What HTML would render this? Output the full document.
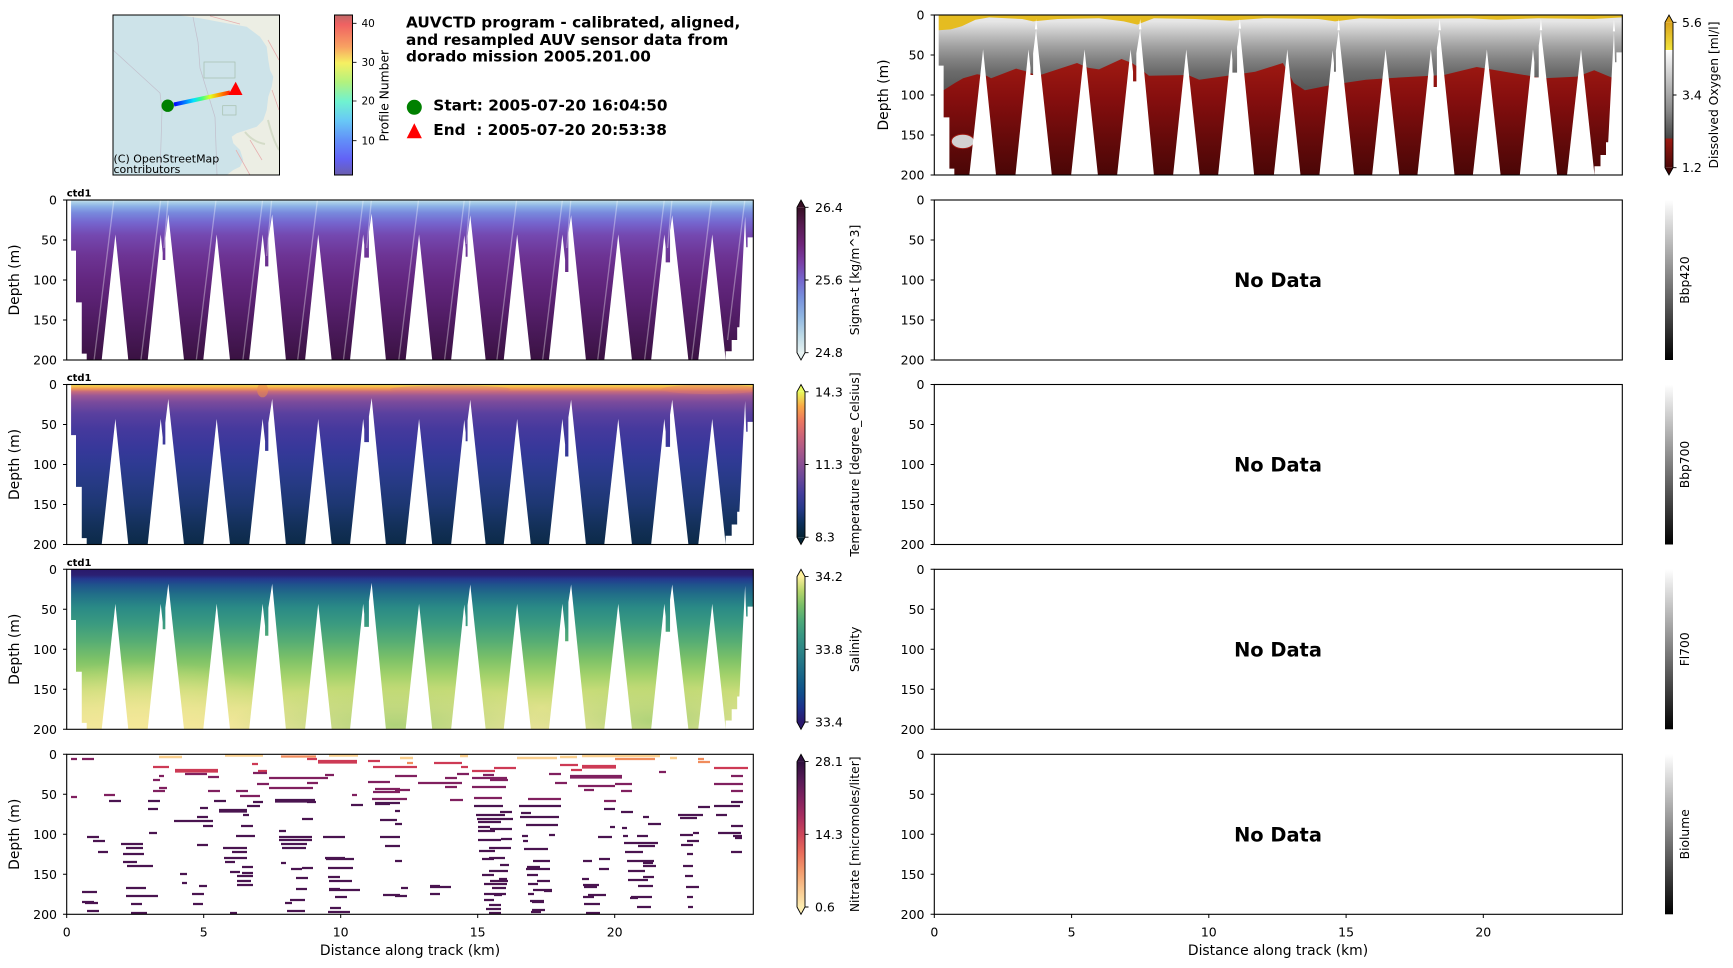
<!DOCTYPE html>
<html><head><meta charset="utf-8"><style>html,body{margin:0;padding:0;background:#fff}svg{display:block}text{font-family:"DejaVu Sans","Liberation Sans",sans-serif;fill:#000}</style></head><body>
<svg width="1733" height="968" viewBox="0 0 1733 968" xmlns="http://www.w3.org/2000/svg" xmlns:xlink="http://www.w3.org/1999/xlink">
<defs>
<clipPath id="clipKm" clipPathUnits="userSpaceOnUse"><rect x="0" y="0" width="25.07" height="200"/></clipPath>
<linearGradient id="gSig" x1="0" y1="0" x2="0" y2="1">
<stop offset="0" stop-color="#cfe6ee"/><stop offset="0.015" stop-color="#a9cfe8"/><stop offset="0.04" stop-color="#8bb0e6"/><stop offset="0.08" stop-color="#7889dd"/><stop offset="0.14" stop-color="#7566cf"/><stop offset="0.22" stop-color="#7448b0"/><stop offset="0.35" stop-color="#6d3494"/><stop offset="0.5" stop-color="#632780"/><stop offset="0.65" stop-color="#58206f"/><stop offset="0.8" stop-color="#4b1a5c"/><stop offset="1" stop-color="#3a1242"/></linearGradient>
<linearGradient id="gTmp" x1="0" y1="0" x2="0" y2="1">
<stop offset="0" stop-color="#f3e45a"/><stop offset="0.012" stop-color="#f6c24c"/><stop offset="0.025" stop-color="#f29a52"/><stop offset="0.045" stop-color="#c66a7e"/><stop offset="0.07" stop-color="#9a5896"/><stop offset="0.11" stop-color="#7a4b9c"/><stop offset="0.18" stop-color="#5a409f"/><stop offset="0.28" stop-color="#45399d"/><stop offset="0.4" stop-color="#37389a"/><stop offset="0.5" stop-color="#2e3a92"/><stop offset="0.62" stop-color="#263a84"/><stop offset="0.75" stop-color="#1d3772"/><stop offset="0.87" stop-color="#14315c"/><stop offset="1" stop-color="#0c2a48"/></linearGradient>
<linearGradient id="gSal" x1="0" y1="0" x2="0" y2="1">
<stop offset="0" stop-color="#2a1a6c"/><stop offset="0.035" stop-color="#2b1f72"/><stop offset="0.06" stop-color="#24388f"/><stop offset="0.1" stop-color="#1f558c"/><stop offset="0.16" stop-color="#217088"/><stop offset="0.24" stop-color="#2a8a86"/><stop offset="0.34" stop-color="#3a9a80"/><stop offset="0.45" stop-color="#56ad74"/><stop offset="0.56" stop-color="#7cc168"/><stop offset="0.66" stop-color="#a2d16a"/><stop offset="0.76" stop-color="#c7dc78"/><stop offset="0.87" stop-color="#e0e28c"/><stop offset="1" stop-color="#f1e69e"/></linearGradient>
<radialGradient id="gSalY"><stop offset="0" stop-color="#f5e898" stop-opacity="0.85"/><stop offset="1" stop-color="#f5e898" stop-opacity="0"/></radialGradient>
<radialGradient id="gSalG"><stop offset="0" stop-color="#86c764" stop-opacity="0.6"/><stop offset="1" stop-color="#86c764" stop-opacity="0"/></radialGradient>
<linearGradient id="gOxG" x1="0" y1="0" x2="0" y2="1">
<stop offset="0" stop-color="#e9e9e9"/><stop offset="0.04" stop-color="#e6e6e6"/><stop offset="0.08" stop-color="#d4d4d4"/><stop offset="0.13" stop-color="#bdbdbd"/><stop offset="0.2" stop-color="#9f9f9f"/><stop offset="0.27" stop-color="#858585"/><stop offset="0.35" stop-color="#6c6c6c"/><stop offset="0.45" stop-color="#5a5a5a"/><stop offset="1" stop-color="#505050"/></linearGradient>
<linearGradient id="gOxR" x1="0" y1="0" x2="0" y2="1">
<stop offset="0" stop-color="#a01a12"/><stop offset="0.35" stop-color="#850e0e"/><stop offset="0.7" stop-color="#640a0a"/><stop offset="1" stop-color="#4a0606"/></linearGradient>
<linearGradient id="cSig" x1="0" y1="0" x2="0" y2="1">
<stop offset="0" stop-color="#360e24"/><stop offset="0.12" stop-color="#561b50"/><stop offset="0.25" stop-color="#6e2478"/><stop offset="0.38" stop-color="#7a3fa6"/><stop offset="0.5" stop-color="#7566cd"/><stop offset="0.62" stop-color="#7790dc"/><stop offset="0.75" stop-color="#8fb6e2"/><stop offset="0.88" stop-color="#bcd9e6"/><stop offset="1" stop-color="#e6f1f1"/></linearGradient>
<linearGradient id="cTmp" x1="0" y1="0" x2="0" y2="1">
<stop offset="0" stop-color="#e8fa5b"/><stop offset="0.1" stop-color="#f9a746"/><stop offset="0.2" stop-color="#ec7760"/><stop offset="0.3" stop-color="#cd6478"/><stop offset="0.4" stop-color="#ab5989"/><stop offset="0.5" stop-color="#894f94"/><stop offset="0.6" stop-color="#67479a"/><stop offset="0.7" stop-color="#433d9c"/><stop offset="0.8" stop-color="#27398a"/><stop offset="0.9" stop-color="#0b2f5c"/><stop offset="1" stop-color="#042333"/></linearGradient>
<linearGradient id="cSal" x1="0" y1="0" x2="0" y2="1">
<stop offset="0" stop-color="#fdef9a"/><stop offset="0.1" stop-color="#b5d56a"/><stop offset="0.2" stop-color="#78be68"/><stop offset="0.3" stop-color="#4eaa78"/><stop offset="0.4" stop-color="#389782"/><stop offset="0.5" stop-color="#2d8686"/><stop offset="0.6" stop-color="#237487"/><stop offset="0.7" stop-color="#156288"/><stop offset="0.8" stop-color="#0f4e8b"/><stop offset="0.9" stop-color="#1c318c"/><stop offset="1" stop-color="#2a186c"/></linearGradient>
<linearGradient id="cNit" x1="0" y1="0" x2="0" y2="1">
<stop offset="0" stop-color="#2f0f3d"/><stop offset="0.125" stop-color="#561a56"/><stop offset="0.25" stop-color="#7f215f"/><stop offset="0.375" stop-color="#a82d60"/><stop offset="0.5" stop-color="#cd465a"/><stop offset="0.625" stop-color="#e86b5a"/><stop offset="0.75" stop-color="#f39a6c"/><stop offset="0.875" stop-color="#f8c58e"/><stop offset="1" stop-color="#fdedb0"/></linearGradient>
<linearGradient id="cOx" x1="0" y1="0" x2="0" y2="1">
<stop offset="0" stop-color="#d9a21c"/><stop offset="0.19" stop-color="#f2e43c"/><stop offset="0.19" stop-color="#ffffff"/><stop offset="0.35" stop-color="#d0d0d0"/><stop offset="0.6" stop-color="#8a8a8a"/><stop offset="0.8" stop-color="#454545"/><stop offset="0.8" stop-color="#9c1a12"/><stop offset="1" stop-color="#4a0707"/></linearGradient>
<linearGradient id="cGray" x1="0" y1="0" x2="0" y2="1"><stop offset="0" stop-color="#ffffff"/><stop offset="1" stop-color="#000000"/></linearGradient>
<linearGradient id="cProf" x1="0" y1="0" x2="0" y2="1">
<stop offset="0" stop-color="#c06868"/><stop offset="0.06" stop-color="#f06262"/><stop offset="0.2" stop-color="#f8a262"/><stop offset="0.3" stop-color="#f6f062"/><stop offset="0.42" stop-color="#b2f27e"/><stop offset="0.54" stop-color="#70f2d0"/><stop offset="0.66" stop-color="#68c8f6"/><stop offset="0.78" stop-color="#6290f8"/><stop offset="0.9" stop-color="#6262f6"/><stop offset="1" stop-color="#6a5eae"/></linearGradient>
<linearGradient id="gTrack" gradientUnits="userSpaceOnUse" x1="174" y1="0" x2="230" y2="0">
<stop offset="0" stop-color="#0000ff"/><stop offset="0.2" stop-color="#0080ff"/><stop offset="0.35" stop-color="#00e0ff"/><stop offset="0.5" stop-color="#40ff80"/><stop offset="0.65" stop-color="#e0ff20"/><stop offset="0.8" stop-color="#ffa000"/><stop offset="1" stop-color="#ff2000"/></linearGradient>
<g id="gaps" fill="#fff">
<polygon points="0,0 0.16,0 0.16,63.3 0.34,63.3 0.34,128 0.55,128 0.55,192 0.73,192 0.73,200 0,200"/>
<polygon points="1.277,200 1.777,43 2.248,200"/>
<polygon points="2.956,200 3.431,43 3.503,66 3.503,75 3.60,75 3.60,48 3.708,18 4.281,200"/>
<polygon points="4.985,200 5.474,43 5.96,200"/>
<polygon points="6.66,200 7.15,43 7.24,71 7.24,83 7.36,83 7.36,48 7.50,18 8.0,200"/>
<polygon points="8.70,200 9.18,43 9.67,200"/>
<polygon points="10.34,200 10.82,43 10.86,56 10.86,72 11.03,72 11.03,40 11.13,17 11.65,200"/>
<polygon points="12.37,200 12.86,43 13.34,200"/>
<polygon points="14.03,200 14.51,44 14.56,60 14.56,71 14.63,71 14.63,45 14.73,19 15.29,200"/>
<polygon points="15.95,200 16.44,43 16.94,200"/>
<polygon points="17.60,200 18.09,43 18.19,75 18.19,90 18.31,90 18.31,41 18.41,19 18.95,200"/>
<polygon points="19.62,200 20.13,43 20.63,200"/>
<polygon points="21.33,200 21.81,43 21.86,59 21.86,78 22.02,78 22.02,38 22.10,19 22.69,200"/>
<polygon points="23.05,200 23.56,43 24.05,200"/>
<polygon points="24.05,200 24.05,189 24.27,189 24.27,175 24.47,175 24.47,159 24.55,159 24.76,20.5 24.80,59 24.85,59 24.85,46.7 25.07,46.7 25.07,200"/>
</g>
</defs>
<rect width="1733" height="968" fill="#fff"/>

<!-- ===== MAP ===== -->
<rect x="113" y="15" width="166.5" height="160" fill="#cde3e9"/>
<polygon points="176.7,15 200,18.3 226.7,23.3 246.7,26.7 260,36.7 266.7,46.7 268.3,60 270,70 273.3,76.7 271.7,86.7 268.3,96.7 266.7,110 263.3,120 256.7,126.7 246.7,130 236.7,133.3 231.7,136.7 233.3,143.3 240,150 243.3,160 240,166.7 233.3,170 226.7,175 279.5,175 279.5,15" fill="#eceee4"/>
<path d="M268 40 L279 60 M272 90 L279 110 M250 140 L262 160 M236 150 L250 175 M210 16 L240 24" stroke="#e6b0b0" stroke-width="0.8" fill="none"/>
<path d="M268 120 q5 20 11 30 M245 132 q8 10 20 12" stroke="#d4dcc8" stroke-width="2" fill="none"/>
<polyline points="113,50 160,93 162,110 160,175" fill="none" stroke="#c2bfcc" stroke-width="0.7"/>
<polyline points="193,17 198,42 200,68 215,117 217,175" fill="none" stroke="#c2bfcc" stroke-width="0.7"/>
<rect x="204" y="62" width="31" height="16" fill="none" stroke="#a6bfae" stroke-width="0.7"/>
<rect x="222.7" y="105.7" width="13.3" height="9.3" fill="none" stroke="#a6bfae" stroke-width="0.7"/>
<line x1="174" y1="104.5" x2="230" y2="92.5" stroke="url(#gTrack)" stroke-width="4"/>
<circle cx="167.7" cy="105.7" r="6.2" fill="#008000"/>
<polygon points="235.7,81.7 228.3,95 242.5,95" fill="#ff0000"/>
<text x="113.5" y="162.5" font-size="11">(C) OpenStreetMap</text>
<text x="113.5" y="173" font-size="11">contributors</text>
<rect x="113" y="15" width="166.5" height="160" fill="none" stroke="#000" stroke-width="1"/>

<!-- profile colorbar -->
<rect x="334.5" y="15" width="18" height="160" fill="url(#cProf)" stroke="#000" stroke-width="1"/>
<path d="M352.5 23.3h4 M352.5 62.3h4 M352.5 101h4 M352.5 140.7h4" stroke="#000" stroke-width="0.8"/>
<text x="361.5" y="27" font-size="10.5">40</text>
<text x="361.5" y="66" font-size="10.5">30</text>
<text x="361.5" y="104.7" font-size="10.5">20</text>
<text x="361.5" y="144.4" font-size="10.5">10</text>
<text transform="translate(388.5,95.7) rotate(-90)" text-anchor="middle" font-size="12.3">Profile Number</text>

<!-- title & legend -->
<text x="406" y="27.3" font-size="15.3" font-weight="bold">AUVCTD program - calibrated, aligned,</text>
<text x="406" y="45" font-size="15.3" font-weight="bold">and resampled AUV sensor data from</text>
<text x="406" y="61.7" font-size="15.3" font-weight="bold">dorado mission 2005.201.00</text>
<circle cx="414.3" cy="107.3" r="7.5" fill="#008000"/>
<polygon points="414.3,123.3 406.7,138.3 421.9,138.3" fill="#ff0000"/>
<text x="433.3" y="110.7" font-size="15.3" font-weight="bold">Start: 2005-07-20 16:04:50</text>
<text x="433.3" y="135" font-size="15.3" font-weight="bold" xml:space="preserve" style="white-space:pre">End  : 2005-07-20 20:53:38</text>

<!-- ===== SIGMA ===== -->
<g transform="translate(66.7,200) scale(27.4,0.8)"><g clip-path="url(#clipKm)">
<rect x="0" y="0" width="25.07" height="200" fill="url(#gSig)"/>
<use href="#gaps" xlink:href="#gaps"/>
<path d="M1.72 0L1.0 200M3.43 0L2.71 200M3.70 0L3.55 60M5.45 0L4.73 200M7.15 0L6.43 200M7.48 0L7.30 70M9.15 0L8.43 200M10.82 0L10.10 200M11.12 0L10.95 60M12.84 0L12.12 200M14.51 0L13.79 200M14.72 0L14.58 55M16.42 0L15.70 200M18.09 0L17.37 200M18.40 0L18.25 60M20.1 0L19.38 200M21.81 0L21.09 200M22.09 0L21.93 60M23.53 0L22.81 200M24.75 0L24.12 175" stroke="#ffffff" stroke-opacity="0.35" stroke-width="1.3" vector-effect="non-scaling-stroke" fill="none"/>
</g></g>
<!-- ===== TEMPERATURE ===== -->
<g transform="translate(66.7,384.5) scale(27.4,0.8)"><g clip-path="url(#clipKm)">
<rect x="0" y="0" width="25.07" height="200" fill="url(#gTmp)"/>
<ellipse cx="7.15" cy="7" rx="0.2" ry="9" fill="#e8884f" opacity="0.6"/>
<ellipse cx="14.0" cy="6" rx="2.2" ry="5" fill="#c8668a" opacity="0.3"/>
<ellipse cx="23.5" cy="6" rx="1.8" ry="6" fill="#e07a6a" opacity="0.4"/>
<use href="#gaps" xlink:href="#gaps"/>
</g></g>
<!-- ===== SALINITY ===== -->
<g transform="translate(66.7,569.3) scale(27.4,0.8)"><g clip-path="url(#clipKm)">
<rect x="0" y="0" width="25.07" height="200" fill="url(#gSal)"/>
<ellipse cx="2.8" cy="200" rx="6" ry="85" fill="url(#gSalY)"/>
<ellipse cx="12.0" cy="195" rx="6" ry="50" fill="url(#gSalG)"/>
<ellipse cx="21.5" cy="190" rx="4.5" ry="45" fill="url(#gSalG)"/>
<use href="#gaps" xlink:href="#gaps"/>
</g></g>
<!-- ===== OXYGEN ===== -->
<g transform="translate(934.3,15) scale(27.45,0.8)"><g clip-path="url(#clipKm)">
<rect x="0" y="0" width="25.07" height="200" fill="url(#gOxG)"/>
<polygon fill="url(#gOxR)" points="0.16,95 0.35,93.7 0.75,85 1.05,79 1.56,74 1.9,76 2.07,79 2.98,67 3.3,70 3.78,76 5.2,60 5.6,66 6.0,68 6.82,55 7.2,60 7.42,65 7.82,76 9.24,75 9.65,81 11.69,71 12.7,60 13.1,85 13.5,94 14.52,87 15.72,81 16.52,79 18.56,75 19.76,65 20.97,72 22.21,79 23.42,77 24.04,69 24.74,79 25.07,80 25.07,200 0.16,200"/>
<ellipse cx="1.04" cy="158" rx="0.42" ry="9" fill="#d2d2d2" stroke="#a01810" stroke-width="1" vector-effect="non-scaling-stroke"/>
<polygon fill="#e5bc20" points="0,0 25.07,0 25.07,3 24,5 22,4 20.5,6 19.5,4 17,5 15.5,4 14.6,8 14,5 12,4 10.8,7 9.5,5 8,4 7.4,12 6.9,8 6,4 4.5,5 3.6,8 3.2,5 2,3 1.5,6 1.0,14 0.6,18 0.16,19 0,19"/>
<use href="#gaps" xlink:href="#gaps"/>
<g fill="#fff"><polygon points="3.663,18 3.708,5 3.753,18"/><polygon points="7.455,18 7.50,5 7.545,18"/><polygon points="11.085,17 11.13,5 11.175,17"/><polygon points="14.685,19 14.73,5 14.775,19"/><polygon points="18.365,19 18.41,5 18.455,19"/><polygon points="22.055,19 22.10,5 22.145,19"/><polygon points="24.72,20.5 24.76,6 24.80,20.5"/></g>
</g></g>

<!-- ===== NITRATE ===== -->
<g fill="none" stroke-width="2.2">
<path stroke="#fad08f" stroke-width="2.6" d="M159 757h23M225 755.5h38M329 755.5h29M400 758h13M460 756h8M517 758h40M560 757h17M582 756h43M621 756h39M670 758h7"/>
<path stroke="#f08c5c" d="M281 756.5h35M615 759h40M698 759h6M698 762h12M407 763h6"/>
<path stroke="#cd3a55" d="M307 759h10M318 761h39M318 762.5h39M368 761h12M373 767h27M252 764h6M175 770h43M175 771.5h43M153 767h16M395 767h22M434 763h28M461 767h7M472 771h23M494 768h22M560 765h18M582 766h34M582 767.5h34M571 770h11M714 768h34M258 771h9"/>
<path stroke="#80205f" d="M71 759h6M82 759h12M659 772h7M185 774h22M208 777h11M253 773h14M159 776h5M153 780h7M159 788h8M153 791h12M269 778h59M257 784h12M307 783h11M269 788h44M325 775h9M368 782h22M373 792h27M375 789h25M352 795h5M208 791h12M236 791h12M240 796h20M104 795h11M71 797h6M549 774h12M570 776h52M570 777.5h52M395 776h22M445 778h12M457 774h12M483 775h11M472 778h35M490 780h18M731 776h12M418 783h44M445 787h12M472 787h34M555 783h12M578 786h37M615 784h17M621 791h11M714 784h29M395 790h15M731 791h12M395 799h12M450 800h13M474 798h28M528 799h33M604 801h12M584 790h10M372 799h28"/>
<path stroke="#4a1450" d="M247 806h13M253 802h10M109 801h12M148 801h12M214 801h12M275 800h40M275 801.5h40M307 802h9M351 805h12M375 804h15M148 809h10M219 810h28M219 811.5h28M200 808h8M174 821h39M197 817h11M243 815h6M302 819h11M203 826h10M241 826h12M149 833h8M87 837h12M93 841h12M236 836h19M279 831h7M279 837h33M279 840h33M281 844h26M282 848h24M323 837h22M98 852h10M121 844h22M126 848h17M123 854h21M197 845h11M223 848h24M232 852h15M224 858h23M225 862h10M123 862h14M127 866h26M242 867h11M230 872h10M242 873h11M237 876h16M237 881h14M237 885h16M281 863h5M291 869h11M302 868h11M296 878h12M325 858h20M326 859h28M328 868h25M328 877h12M329 881h23M329 889h11M329 890h31M335 897h12M330 908h11M328 912h22M126 888h20M126 896h32M131 904h11M131 913h16M82 892h15M82 902h12M85 903h13M87 911h12M182 883h5M192 894h12M193 904h10M180 874h7M199 886h8M230 913h7M287 911h18M285 903h7M290 900h15M296 889h11M383 895h17M380 837h20M385 846h15M380 820h17M395 811h5M375 803h25"/>
<path stroke="#4a1450" d="M474 806h29M519 806h42M714 806h26M731 802h12M698 807h12M604 809h11M500 812h12M621 812h12M476 815h29M521 813h10M678 815h25M680 818h17M716 815h11M643 817h6M520 817h39M477 819h36M478 822h23M648 824h13M395 824h7M526 825h32M731 826h12M610 827h5M622 828h5M478 827h12M490 829h22M478 831h17M549 835h6M522 836h6M598 837h14M623 836h5M637 836h11M680 835h13M693 833h6M718 833h23M733 836h9M735 838h7M478 840h23M501 839h11M523 841h5M624 843h34M638 846h17M687 841h12M681 845h12M524 849h24M489 848h22M479 851h16M625 852h18M731 852h11M687 854h6M482 859h12M489 858h16M533 861h17M583 861h9M599 859h11M627 861h27M643 863h10M395 861h7M500 865h9M526 869h24M527 867h13M643 866h13M599 869h10M628 871h17M683 866h10M489 871h19M482 875h12M527 875h11M643 877h11M685 876h8M499 879h8M490 881h18M537 881h13M582 879h7M628 880h20M484 884h23M528 884h10M583 885h16M584 887h13M638 886h15M430 887h21M430 886h10M401 888h7M492 888h14M533 890h19M544 891h8M686 887h13M395 896h12M430 894h10M484 894h22M494 895h8M528 894h6M583 897h11M588 895h18M630 898h8M631 897h21M687 897h6M484 900h10M530 901h14M532 902h12M637 907h14M489 905h12M584 904h16M688 907h5M486 909h15M532 910h13M531 912h10M489 913h12M586 913h14"/>
</g>

<!-- ===== AXES FRAMES ===== -->
<g fill="none" stroke="#000" stroke-width="1.1">
<rect x="66.7" y="200" width="686.6" height="160"/>
<rect x="66.7" y="384.5" width="686.6" height="160"/>
<rect x="66.7" y="569.3" width="686.6" height="160"/>
<rect x="66.7" y="754.3" width="686.6" height="160"/>
<rect x="934.3" y="15" width="688" height="160"/>
<rect x="934.3" y="200" width="688" height="160"/>
<rect x="934.3" y="384.5" width="688" height="160"/>
<rect x="934.3" y="569.3" width="688" height="160"/>
<rect x="934.3" y="754.3" width="688" height="160"/>
</g>
<!-- ticks -->
<path stroke="#000" stroke-width="1" d="M63 200h3.7M63 240h3.7M63 280h3.7M63 320h3.7M63 360h3.7M63 384.5h3.7M63 424.5h3.7M63 464.5h3.7M63 504.5h3.7M63 544.5h3.7M63 569.3h3.7M63 609.3h3.7M63 649.3h3.7M63 689.3h3.7M63 729.3h3.7M63 754.3h3.7M63 794.3h3.7M63 834.3h3.7M63 874.3h3.7M63 914.3h3.7M930.6 15h3.7M930.6 55h3.7M930.6 95h3.7M930.6 135h3.7M930.6 175h3.7M930.6 200h3.7M930.6 240h3.7M930.6 280h3.7M930.6 320h3.7M930.6 360h3.7M930.6 384.5h3.7M930.6 424.5h3.7M930.6 464.5h3.7M930.6 504.5h3.7M930.6 544.5h3.7M930.6 569.3h3.7M930.6 609.3h3.7M930.6 649.3h3.7M930.6 689.3h3.7M930.6 729.3h3.7M930.6 754.3h3.7M930.6 794.3h3.7M930.6 834.3h3.7M930.6 874.3h3.7M930.6 914.3h3.7M66.7 914.3v3.7M203.7 914.3v3.7M340.7 914.3v3.7M477.7 914.3v3.7M614.7 914.3v3.7M934.3 914.3v3.7M1071.6 914.3v3.7M1208.8 914.3v3.7M1346.1 914.3v3.7M1483.3 914.3v3.7"/>
<g font-size="12.5" text-anchor="end">
<text x="57" y="204.5">0</text><text x="57" y="244.5">50</text><text x="57" y="284.5">100</text><text x="57" y="324.5">150</text><text x="57" y="364.5">200</text>
<text x="57" y="389">0</text><text x="57" y="429">50</text><text x="57" y="469">100</text><text x="57" y="509">150</text><text x="57" y="549">200</text>
<text x="57" y="573.8">0</text><text x="57" y="613.8">50</text><text x="57" y="653.8">100</text><text x="57" y="693.8">150</text><text x="57" y="733.8">200</text>
<text x="57" y="758.8">0</text><text x="57" y="798.8">50</text><text x="57" y="838.8">100</text><text x="57" y="878.8">150</text><text x="57" y="918.8">200</text>
<text x="924.5" y="19.5">0</text><text x="924.5" y="59.5">50</text><text x="924.5" y="99.5">100</text><text x="924.5" y="139.5">150</text><text x="924.5" y="179.5">200</text>
<text x="924.5" y="204.5">0</text><text x="924.5" y="244.5">50</text><text x="924.5" y="284.5">100</text><text x="924.5" y="324.5">150</text><text x="924.5" y="364.5">200</text>
<text x="924.5" y="389">0</text><text x="924.5" y="429">50</text><text x="924.5" y="469">100</text><text x="924.5" y="509">150</text><text x="924.5" y="549">200</text>
<text x="924.5" y="573.8">0</text><text x="924.5" y="613.8">50</text><text x="924.5" y="653.8">100</text><text x="924.5" y="693.8">150</text><text x="924.5" y="733.8">200</text>
<text x="924.5" y="758.8">0</text><text x="924.5" y="798.8">50</text><text x="924.5" y="838.8">100</text><text x="924.5" y="878.8">150</text><text x="924.5" y="918.8">200</text>
</g>
<g font-size="12.5" text-anchor="middle">
<text x="66.7" y="936.5">0</text><text x="203.7" y="936.5">5</text><text x="340.7" y="936.5">10</text><text x="477.7" y="936.5">15</text><text x="614.7" y="936.5">20</text>
<text x="934.3" y="936.5">0</text><text x="1071.6" y="936.5">5</text><text x="1208.8" y="936.5">10</text><text x="1346.1" y="936.5">15</text><text x="1483.3" y="936.5">20</text>
</g>
<text x="410" y="955" font-size="13.9" text-anchor="middle">Distance along track (km)</text>
<text x="1278" y="955" font-size="13.9" text-anchor="middle">Distance along track (km)</text>
<g font-size="13.9" text-anchor="middle">
<text transform="translate(19,280) rotate(-90)">Depth (m)</text>
<text transform="translate(19,464.5) rotate(-90)">Depth (m)</text>
<text transform="translate(19,649.3) rotate(-90)">Depth (m)</text>
<text transform="translate(19,834.3) rotate(-90)">Depth (m)</text>
<text transform="translate(888,95) rotate(-90)">Depth (m)</text>
</g>
<g font-size="10" font-weight="bold">
<text x="66.7" y="196.7">ctd1</text><text x="66.7" y="381.2">ctd1</text><text x="66.7" y="566">ctd1</text>
</g>
<g font-size="19.4" font-weight="bold" text-anchor="middle">
<text x="1278" y="287">No Data</text><text x="1278" y="471.5">No Data</text><text x="1278" y="656.3">No Data</text><text x="1278" y="841.3">No Data</text>
</g>

<!-- ===== LEFT COLORBARS ===== -->
<g stroke="#000" stroke-width="0.9">
<rect x="797" y="207.3" width="8" height="145.4" fill="url(#cSig)" stroke="none"/>
<polygon points="797,207.3 801,200 805,207.3" fill="#360e24" stroke="none"/><polygon points="797,352.7 801,360 805,352.7" fill="#e6f1f1" stroke="none"/>
<polygon points="797,207.3 801,200 805,207.3 805,352.7 801,360 797,352.7" fill="none"/>
<rect x="797" y="391.8" width="8" height="145.4" fill="url(#cTmp)" stroke="none"/>
<polygon points="797,391.8 801,384.5 805,391.8" fill="#e8fa5b" stroke="none"/><polygon points="797,537.2 801,544.5 805,537.2" fill="#042333" stroke="none"/>
<polygon points="797,391.8 801,384.5 805,391.8 805,537.2 801,544.5 797,537.2" fill="none"/>
<rect x="797" y="576.6" width="8" height="145.4" fill="url(#cSal)" stroke="none"/>
<polygon points="797,576.6 801,569.3 805,576.6" fill="#fdef9a" stroke="none"/><polygon points="797,722 801,729.3 805,722" fill="#2a186c" stroke="none"/>
<polygon points="797,576.6 801,569.3 805,576.6 805,722 801,729.3 797,722" fill="none"/>
<rect x="797" y="761.6" width="8" height="145.4" fill="url(#cNit)" stroke="none"/>
<polygon points="797,761.6 801,754.3 805,761.6" fill="#2f0f3d" stroke="none"/><polygon points="797,907 801,914.3 805,907" fill="#fdedb0" stroke="none"/>
<polygon points="797,761.6 801,754.3 805,761.6 805,907 801,914.3 797,907" fill="none"/>
<path d="M805 207.3h3.5M805 280h3.5M805 352.7h3.5M805 391.8h3.5M805 464.5h3.5M805 537.2h3.5M805 576.6h3.5M805 649.3h3.5M805 722h3.5M805 761.6h3.5M805 834.3h3.5M805 907h3.5"/>
</g>
<g font-size="12.5">
<text x="815" y="211.8">26.4</text><text x="815" y="284.5">25.6</text><text x="815" y="357.2">24.8</text>
<text x="815" y="396.3">14.3</text><text x="815" y="469">11.3</text><text x="815" y="541.7">8.3</text>
<text x="815" y="581.1">34.2</text><text x="815" y="653.8">33.8</text><text x="815" y="726.5">33.4</text>
<text x="815" y="766.1">28.1</text><text x="815" y="838.8">14.3</text><text x="815" y="911.5">0.6</text>
</g>
<g font-size="12.3" text-anchor="middle">
<text transform="translate(859,280) rotate(-90)">Sigma-t [kg/m^3]</text>
<text transform="translate(859,464.5) rotate(-90)">Temperature [degree_Celsius]</text>
<text transform="translate(859,649.3) rotate(-90)">Salinity</text>
<text transform="translate(859,834.3) rotate(-90)">Nitrate [micromoles/liter]</text>
</g>

<!-- ===== RIGHT COLORBARS ===== -->
<rect x="1665" y="22.3" width="8" height="145.4" fill="url(#cOx)"/>
<polygon points="1665,22.3 1669,15 1673,22.3" fill="#d9a21c"/><polygon points="1665,167.7 1669,175 1673,167.7" fill="#3c0303"/>
<polygon points="1665,22.3 1669,15 1673,22.3 1673,167.7 1669,175 1665,167.7" fill="none" stroke="#000" stroke-width="0.9"/>
<path d="M1673 22.3h3.5M1673 95h3.5M1673 167.7h3.5" stroke="#000" stroke-width="0.9"/>
<g font-size="12.5"><text x="1682" y="26.8">5.6</text><text x="1682" y="99.5">3.4</text><text x="1682" y="172.2">1.2</text></g>
<rect x="1665" y="200" width="8" height="160" fill="url(#cGray)"/>
<rect x="1665" y="384.5" width="8" height="160" fill="url(#cGray)"/>
<rect x="1665" y="569.3" width="8" height="160" fill="url(#cGray)"/>
<rect x="1665" y="754.3" width="8" height="160" fill="url(#cGray)"/>
<g font-size="12.3" text-anchor="middle">
<text transform="translate(1718,95) rotate(-90)">Dissolved Oxygen [ml/l]</text>
<text transform="translate(1689,280) rotate(-90)">Bbp420</text>
<text transform="translate(1689,464.5) rotate(-90)">Bbp700</text>
<text transform="translate(1689,649.3) rotate(-90)">Fl700</text>
<text transform="translate(1689,834.3) rotate(-90)">Biolume</text>
</g>
</svg>
</body></html>
